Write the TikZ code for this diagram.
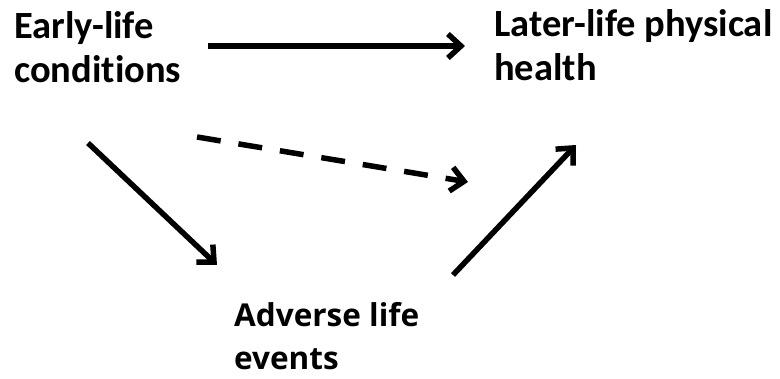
\documentclass[tikz,border=0pt]{standalone}
\usepackage{fontspec}
\setmainfont{Carlito}[Ligatures=NoCommon]
\newfontfamily\advfont{Open Sans}
\usetikzlibrary{arrows.meta}
\begin{document}
\begin{tikzpicture}[x=1pt,y=-1pt,
  lbl/.style={anchor=base west, inner sep=0pt, align=left, font=\fontsize{38.5}{44}\selectfont\bfseries},
  advlbl/.style={anchor=base west, inner sep=0pt, align=left, font=\advfont\fontsize{31.5}{43}\selectfont\bfseries},
  arr/.style={line width=5.5pt, -{Straight Barb[length=13pt,width=24pt]}},
  dasharr/.style={arr, dash pattern=on 24pt off 18pt}]
\useasboundingbox (0,0) rectangle (780,379);
\node[lbl] (early) at (14,83) {Early-life\\conditions};
\node[lbl] (later) at (494,81) {Later-life physical\\health};
\node[advlbl] (adverse) at (234,370) {Adverse life\\events};
\coordinate (a1s) at (208,46);
\coordinate (a1e) at (465,46);
\coordinate (a2s) at (197,137);
\coordinate (a2e) at (468,182);
\coordinate (a3s) at (88,143);
\coordinate (a3e) at (217,265);
\coordinate (a4s) at (453,275);
\coordinate (a4e) at (576,145);
\draw[arr] (a1s) -- (a1e);
\draw[dasharr] (a2s) -- (a2e);
\draw[arr] (a3s) -- (a3e);
\draw[arr] (a4s) -- (a4e);
\end{tikzpicture}
\end{document}
